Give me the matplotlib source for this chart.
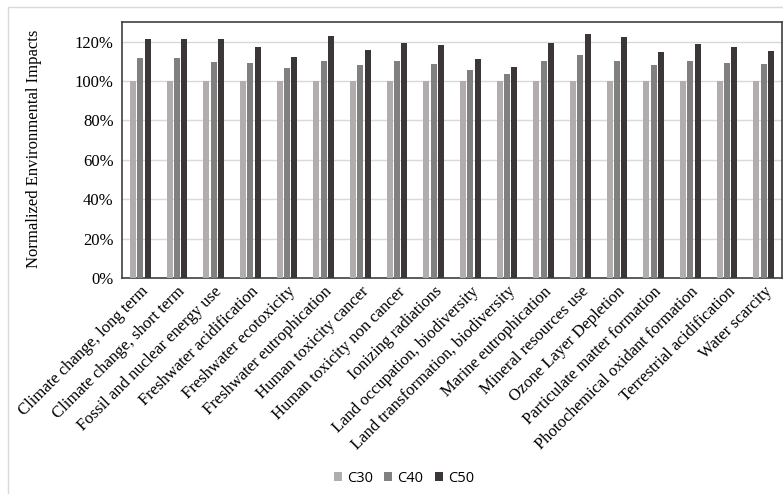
import matplotlib
matplotlib.use("Agg")
import matplotlib.pyplot as plt
import numpy as np
from matplotlib.patches import Rectangle
from matplotlib.ticker import FuncFormatter

categories = [
    "Climate change, long term",
    "Climate change, short term",
    "Fossil and nuclear energy use",
    "Freshwater acidification",
    "Freshwater ecotoxicity",
    "Freshwater eutrophication",
    "Human toxicity cancer",
    "Human toxicity non cancer",
    "Ionizing radiations",
    "Land occupation, biodiversity",
    "Land transformation, biodiversity",
    "Marine eutrophication",
    "Mineral resources use",
    "Ozone Layer Depletion",
    "Particulate matter formation",
    "Photochemical oxidant formation",
    "Terrestrial acidification",
    "Water scarcity",
]
c30 = [1.0] * 18
c40 = [1.117, 1.117, 1.097, 1.090, 1.065, 1.102, 1.083, 1.102, 1.088,
       1.057, 1.035, 1.102, 1.130, 1.100, 1.080, 1.100, 1.093, 1.085]
c50 = [1.215, 1.215, 1.212, 1.175, 1.122, 1.227, 1.157, 1.192, 1.183,
       1.110, 1.070, 1.192, 1.240, 1.222, 1.150, 1.190, 1.175, 1.155]
series = [("C30", c30, "#b1adac"), ("C40", c40, "#808080"), ("C50", c50, "#3b3737")]

serif = "Liberation Serif"

fig = plt.figure(figsize=(7.83, 4.94), dpi=100)
ax = fig.add_axes([122 / 783, 1 - 278 / 494, 660 / 783, 256 / 494])

x = np.arange(len(categories))
width = 0.165
for i, (name, vals, color) in enumerate(series):
    ax.bar(x + (i - 1) * 0.2, vals, width, color=color, label=name, zorder=3)

ax.set_xlim(-0.5, len(categories) - 0.5)
ax.set_ylim(0, 1.3)
ax.set_yticks(np.arange(0, 1.21, 0.2))
ax.yaxis.set_major_formatter(FuncFormatter(lambda v, _: f"{v * 100:.0f}%"))
ax.grid(axis="y", color="#d9d9d9", linewidth=1, zorder=0)
ax.tick_params(length=0, pad=6)
ax.set_xticks(x)
ax.set_xticklabels(categories, rotation=45, ha="right", rotation_mode="anchor",
                   fontfamily=serif, fontsize=12)
for lbl in ax.get_yticklabels():
    lbl.set_fontfamily(serif)
    lbl.set_fontsize(12)
ax.tick_params(axis="x", pad=4)
for s in ax.spines.values():
    s.set_color("#404040")
    s.set_linewidth(1.2)

# y label sits well left of the tick labels in the original
fig.text(34 / 783, 1 - 149 / 494, "Normalized Environmental Impacts", rotation=90,
         ha="center", va="center", fontfamily=serif, fontsize=12)

fig.legend(loc="center", bbox_to_anchor=(404 / 783, 1 - 478 / 494), ncol=3, frameon=False,
           prop={"family": "Open Sans", "size": 10.5}, handlelength=0.55, handleheight=0.55,
           columnspacing=0.8, handletextpad=0.35)

fig.patches.append(Rectangle((8 / 783, -0.1), 1.2, 1 - 7 / 494 + 0.1, transform=fig.transFigure,
                             fill=False, edgecolor="#d9d9d9", linewidth=1, zorder=-1))

fig.savefig("out.png", dpi=100)
